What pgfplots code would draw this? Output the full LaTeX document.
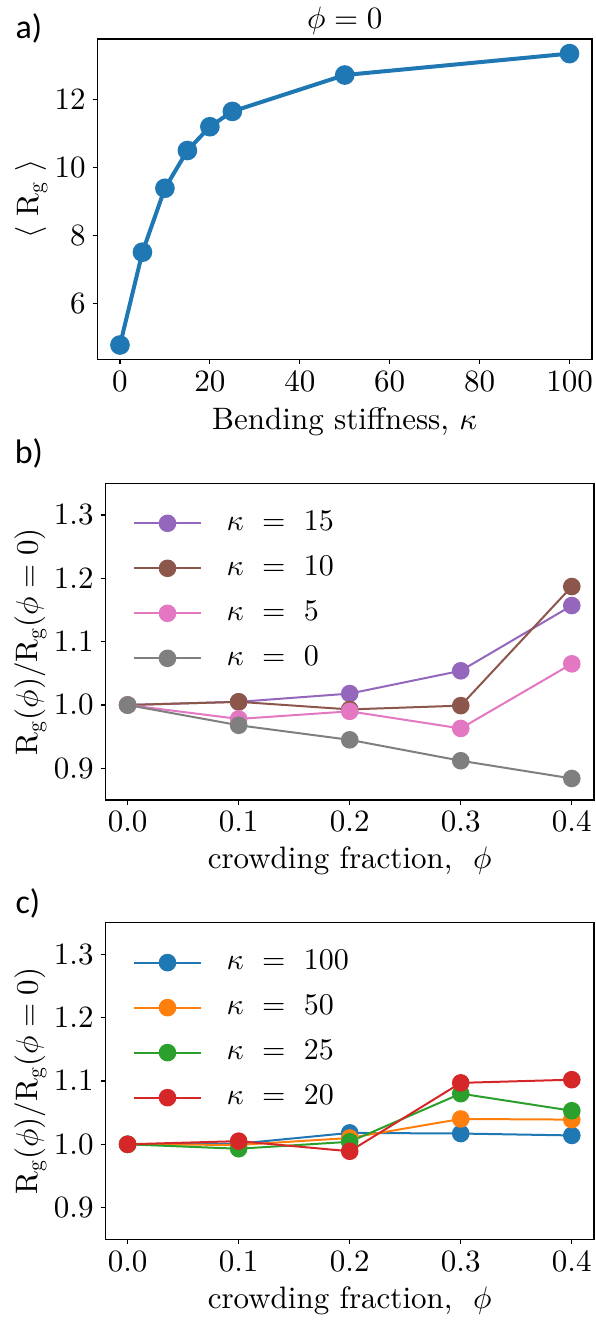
\documentclass[border=0pt]{standalone}
\usepackage{pgfplots}
\pgfplotsset{compat=1.18}
\usepackage{fontspec}
\setmainfont{lmroman10}[Extension=.otf, UprightFont=*-regular, ItalicFont=*-italic, BoldFont=*-bold, BoldItalicFont=*-bolditalic]
\newfontfamily\labelfont{Carlito}
\DeclareFontShape{OT1}{cmr}{m}{n}{<->cmr10}{}
\DeclareFontShape{OML}{cmm}{m}{it}{<->cmmi10}{\skewchar\font127}
\DeclareFontShape{OMS}{cmsy}{m}{n}{<->cmsy10}{\skewchar\font48}
\newcommand\bigfont{\fontsize{15.5}{18.6}\selectfont}
\definecolor{c0}{HTML}{1F77B4}
\definecolor{c1}{HTML}{FF7F0E}
\definecolor{c2}{HTML}{2CA02C}
\definecolor{c3}{HTML}{D62728}
\definecolor{c4}{HTML}{9467BD}
\definecolor{c5}{HTML}{8C564B}
\definecolor{c6}{HTML}{E377C2}
\definecolor{c7}{HTML}{7F7F7F}
\pgfplotsset{
  every axis title shift=0pt,
  every axis/.append style={
    font=\bigfont,
    scale only axis,
    anchor=south west,
    tick align=outside,
    xtick pos=lower, ytick pos=left,
    major tick length=2.4pt,
    tick style={black, line width=0.6pt},
    axis line style={line width=0.6pt},
    xticklabel style={font=\bigfont},
    yticklabel style={font=\bigfont},
    xlabel style={font=\bigfont},
    ylabel style={font=\bigfont},
    title style={font=\bigfont},
  },
  phistyle/.style={
    width=244.3pt, height=158.35pt,
    xmin=-0.02, xmax=0.42, ymin=0.85, ymax=1.35,
    xtick={0,0.1,0.2,0.3,0.4},
    ytick={0.9,1.0,1.1,1.2,1.3},
    xticklabel style={/pgf/number format/.cd, fixed, fixed zerofill, precision=1},
    yticklabel style={/pgf/number format/.cd, fixed, fixed zerofill, precision=1},
    xlabel={crowding fraction, $\ \phi$},
    ylabel={$\mathrm{R_g}(\phi)/\mathrm{R_g}(\phi=0)$},
    xlabel style={at={(axis description cs:0.5,-0.2175)}, anchor=base},
    ylabel style={at={(axis description cs:-0.1533,0.5)}, anchor=center},
    legend cell align=left,
    legend style={draw=none, fill=none, at={(axis description cs:0.0565,0.921)}, anchor=north west,
      inner sep=0pt, outer sep=0pt, row sep=7.5pt, column sep=12.3pt,
      font=\fontsize{15}{18}\selectfont,
      nodes={inner sep=0pt, text height=11pt, text depth=4pt}},
    legend image code/.code={\draw[mark repeat=2,mark phase=2] plot coordinates {(0pt,0pt)(16.75pt,0pt)(33.5pt,0pt)};},
  },
  ser/.style={color=#1, line width=1pt, mark=*, mark size=3.9pt, mark options={solid, fill=#1, draw=#1}},
}
\begin{document}
\begin{tikzpicture}
\useasboundingbox (0pt,0pt) rectangle (297.5pt,-660pt);
% panel a
\begin{axis}[
  at={(48.75pt,-179.65pt)},
  width=247.25pt, height=160.15pt,
  xmin=-5, xmax=105, ymin=4.35, ymax=13.77,
  xtick={0,20,40,60,80,100},
  ytick={6,8,10,12},
  title={$\phi=0$},
  title style={at={(axis description cs:0.5,1.0322)}, anchor=base},
  xlabel={Bending stiffness, $\kappa$},
  ylabel={$\langle\ \mathrm{R_g}\ \rangle$},
  xlabel style={at={(axis description cs:0.5,-0.2207)}, anchor=base},
  ylabel style={at={(axis description cs:-0.1339,0.5)}, anchor=center},
]
\addplot[color=c0, line width=2pt, mark=*, mark size=3.9pt, mark options={solid, fill=c0}] coordinates {
(0,4.77) (5,7.50) (10,9.38) (15,10.49) (20,11.19) (25,11.64) (50,12.71) (100,13.34)};
\end{axis}
% panel b
\begin{axis}[phistyle, at={(52.7pt,-400pt)}]
\addplot[ser=c4] coordinates {(0,1.000) (0.1,1.005) (0.2,1.018) (0.3,1.054) (0.4,1.157)};
\addlegendentry{$\kappa\ =\ 15$}
\addplot[ser=c5] coordinates {(0,1.000) (0.1,1.005) (0.2,0.993) (0.3,0.999) (0.4,1.187)};
\addlegendentry{$\kappa\ =\ 10$}
\addplot[ser=c6] coordinates {(0,1.000) (0.1,0.978) (0.2,0.990) (0.3,0.963) (0.4,1.065)};
\addlegendentry{$\kappa\ =\ 5$}
\addplot[ser=c7] coordinates {(0,1.000) (0.1,0.968) (0.2,0.945) (0.3,0.912) (0.4,0.884)};
\addlegendentry{$\kappa\ =\ 0$}
\end{axis}
% panel c
\begin{axis}[phistyle, at={(52.7pt,-619.65pt)}]
\addplot[ser=c0] coordinates {(0,1.000) (0.1,1.001) (0.2,1.018) (0.3,1.017) (0.4,1.014)};
\addlegendentry{$\kappa\ =\ 100$}
\addplot[ser=c1] coordinates {(0,1.000) (0.1,0.999) (0.2,1.010) (0.3,1.040) (0.4,1.039)};
\addlegendentry{$\kappa\ =\ 50$}
\addplot[ser=c2] coordinates {(0,1.000) (0.1,0.993) (0.2,1.004) (0.3,1.080) (0.4,1.053)};
\addlegendentry{$\kappa\ =\ 25$}
\addplot[ser=c3] coordinates {(0,1.000) (0.1,1.005) (0.2,0.989) (0.3,1.097) (0.4,1.102)};
\addlegendentry{$\kappa\ =\ 20$}
\end{axis}
\node[anchor=base west, inner sep=0pt, font=\labelfont\fontsize{17}{20}\selectfont] at (7.6pt,-19.3pt) {a)};
\node[anchor=base west, inner sep=0pt, font=\labelfont\fontsize{17}{20}\selectfont] at (7.2pt,-231.5pt) {b)};
\node[anchor=base west, inner sep=0pt, font=\labelfont\fontsize{17}{20}\selectfont] at (7.6pt,-456.8pt) {c)};
\end{tikzpicture}
\end{document}
